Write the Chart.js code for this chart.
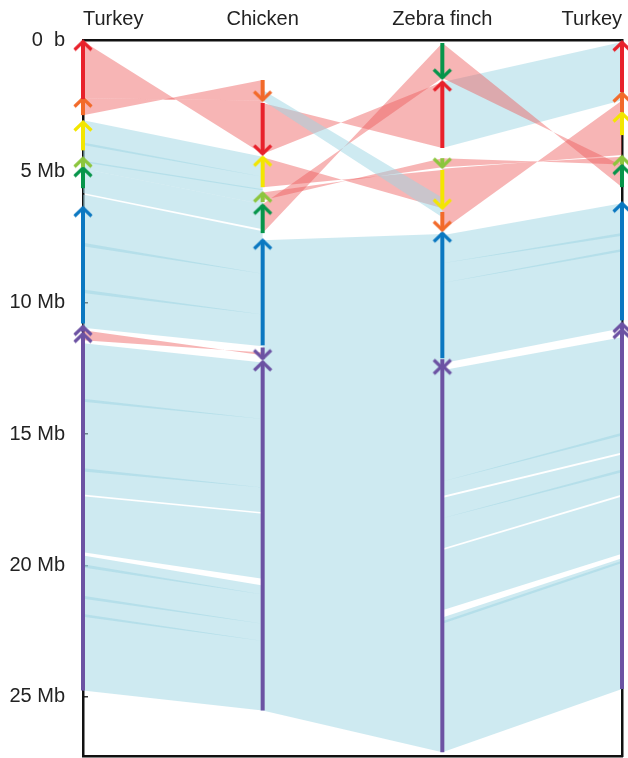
<!DOCTYPE html>
<html><head><meta charset="utf-8">
<script src="https://cdn.jsdelivr.net/npm/chart.js@4"></script>
<style>html,body{margin:0;padding:0;background:#fff}#wrap{width:628px;height:758px}</style>
</head><body><div id="wrap"><canvas id="c"></canvas></div>
<script>
// ---- data (Mb) ----
const columns = ['Turkey', 'Chicken', 'Zebra finch', 'Turkey'];
const yTicks = [0, 5, 10, 15, 20, 25];
const yTickLabels = ['0  b', '5 Mb', '10 Mb', '15 Mb', '20 Mb', '25 Mb'];
const yMax = 27.25;

// synteny blocks on each chromosome: [block, start, arrow tip]
const turkeyA = [['red',2.25,0.05],['orange',2.86,2.21],['yellow',4.2,3.12],['lime',4.84,4.5],['green',5.64,4.86],['blue',10.79,6.38],['purple',11.1,10.9],['purple',24.76,11.17]];
const chicken = [['orange',1.52,2.29],['red',2.4,4.34],['yellow',5.6,4.46],['lime',6.17,5.83],['green',7.35,6.29],['blue',11.62,7.62],['purple',11.7,12.13],['purple',25.52,12.25]];
const zebraFinch = [['green',0.11,1.45],['red',4.11,1.6],['lime',4.5,4.84],['yellow',4.95,6.4],['orange',6.55,7.24],['blue',12.11,7.35],['purple',12.15,12.5],['purple',27.11,12.38]];
const turkeyB = [['red',1.98,0.08],['orange',2.74,2.02],['yellow',3.62,2.78],['lime',4.74,4.44],['green',5.6,4.78],['blue',10.67,6.21],['purple',11.0,10.79],['purple',24.7,11.02]];

// links between neighbouring columns: [leftStart, leftEnd, rightStart, rightEnd]
const turkeyChickenSame = [[3.05,4.65,4.44,5.72],[4.6,4.9,5.68,6.25],[4.9,5.82,6.25,7.2],[5.88,10.95,7.28,11.66],[11.54,17.3,12.27,17.97],[17.36,19.5,18.03,20.5],[19.62,24.76,20.76,25.52],
  [3.9,4.0,5.2,5.2],[7.72,7.85,8.9,8.9],[9.5,9.63,10.45,10.45],[13.65,13.77,14.42,14.42],[16.3,16.42,17.03,17.03],[19.95,20.08,21.1,21.1],[21.15,21.27,22.22,22.22],[21.85,21.95,22.87,22.87]];
const turkeyChickenInverted = [[0.05,2.22,4.34,2.3],[2.22,2.86,2.3,1.52],[11.05,11.43,12.0,11.89]];
const chickenZebraInverted = [[2.4,4.34,4.11,1.6],[4.46,5.6,6.4,4.95],[5.8,6.1,4.84,4.5],[6.25,7.35,1.45,0.11]];
const chickenZebraSame = [[1.9,2.3,6.0,6.75],[7.62,25.52,7.38,27.11]];
const zebraTurkeySame = [[1.6,4.11,0.08,2.29],[7.43,12.3,6.21,10.97],[12.57,17.35,11.31,15.7],[17.43,19.35,15.78,17.3],[19.42,21.7,17.37,19.55],[21.98,27.11,19.72,24.7],
  [22.12,22.22,19.82,19.9],[16.8,16.8,14.95,15.05],[18.2,18.2,16.35,16.45],[9.25,9.25,7.95,8.05],[8.5,8.5,7.35,7.45]];
const zebraTurkeyInverted = [[0.11,1.45,5.6,4.78],[4.5,4.84,4.74,4.44],[4.9,7.24,4.38,2.3]];

// ---- styles ----
const blockColors = {red:'#e8212b', orange:'#f26a2a', yellow:'#f3e600', lime:'#8cc63e', green:'#06954a', blue:'#0b78c1', purple:'#6c52a3'};
const sameColor = 'rgba(157,214,228,0.5)';
const invColor = 'rgba(238,92,92,0.45)';

function chevron(color){
  const c = document.createElement('canvas'); c.width = 22; c.height = 22;
  const g = c.getContext('2d');
  g.strokeStyle = color; g.lineWidth = 3.2; g.lineJoin = 'miter'; g.lineCap = 'butt';
  g.beginPath(); g.moveTo(2.5, 19.5); g.lineTo(11, 11.3); g.lineTo(19.5, 19.5); g.stroke();
  return c;
}
const arrows = {};
for (const k in blockColors) arrows[k] = chevron(blockColors[k]);

const datasets = [];
let k = 0;
const layers = [
  [0, turkeyChickenSame, sameColor], [0, turkeyChickenInverted, invColor],
  [1, chickenZebraInverted, invColor], [1, chickenZebraSame, sameColor],
  [2, zebraTurkeySame, sameColor], [2, zebraTurkeyInverted, invColor]
];
for (const [c, list, color] of layers) {
  for (const l of list) {
    datasets.push({
      type:'line',
      data:[{x:c,y:l[0]},{x:c+1,y:l[2]},{x:c+1,y:l[3]},{x:c,y:l[1]}],
      fill:'shape', backgroundColor:color, borderWidth:0, pointRadius:0, pointHoverRadius:0,
      tension:0, order:1000 - (k++)
    });
  }
}
[turkeyA, chicken, zebraFinch, turkeyB].forEach((blocks, c) => {
  for (const [name, from, to] of blocks) {
    datasets.push({
      type:'line',
      data:[{x:c,y:from},{x:c,y:to}],
      borderColor:blockColors[name], borderWidth:4, borderCapStyle:'butt',
      pointRadius:[0,6], pointHoverRadius:0, pointStyle:['circle', arrows[name]],
      pointRotation:[0, to < from ? 0 : 180], fill:false, clip:false, order:0
    });
  }
});

const axisColor = '#111';
new Chart(document.getElementById('c'), {
  type:'line',
  data:{datasets},
  options:{
    responsive:true, maintainAspectRatio:false, animation:false, events:[],
    layout:{padding:0, autoPadding:false},
    plugins:{legend:{display:false}, tooltip:{enabled:false}},
    scales:{
      x:{type:'linear', min:0, max:3, position:'bottom',
        ticks:{display:false}, grid:{display:false, drawTicks:false},
        border:{display:true, color:axisColor, width:2.5},
        afterFit:s=>{s.height=2; s.paddingLeft=0; s.paddingRight=0;}},
      x2:{type:'linear', min:0, max:3, position:'top',
        afterBuildTicks:s=>{ s.ticks = columns.map((_, i) => ({value:i})); },
        ticks:{callback:(v,i)=>columns[i], align:'inner', autoSkip:false, maxRotation:0,
          font:{family:'"Liberation Sans", Arial, sans-serif', size:20}, color:'#222', padding:9},
        grid:{display:false, drawTicks:false},
        border:{display:true, color:axisColor, width:2.5},
        afterFit:s=>{s.height=40; s.paddingLeft=0; s.paddingRight=0;}},
      y:{type:'linear', min:0, max:yMax, reverse:true, position:'left',
        afterBuildTicks:s=>{ s.ticks = yTicks.map(v => ({value:v})); },
        ticks:{callback:(v,i)=>yTickLabels[i], autoSkip:false,
          font:{family:'"Liberation Sans", Arial, sans-serif', size:20}, color:'#222', padding:23},
        grid:{display:true, drawOnChartArea:false, drawTicks:true, tickLength:-5, color:'#333', lineWidth:1.5},
        border:{display:true, color:axisColor, width:2.5},
        afterFit:s=>{s.width=83; s.paddingTop=0; s.paddingBottom=0;}},
      y2:{type:'linear', min:0, max:yMax, reverse:true, position:'right',
        ticks:{display:false}, grid:{display:false, drawTicks:false},
        border:{display:true, color:axisColor, width:2.5},
        afterFit:s=>{s.width=6; s.paddingTop=0; s.paddingBottom=0;}}
    }
  }
});
</script>
</body></html>
